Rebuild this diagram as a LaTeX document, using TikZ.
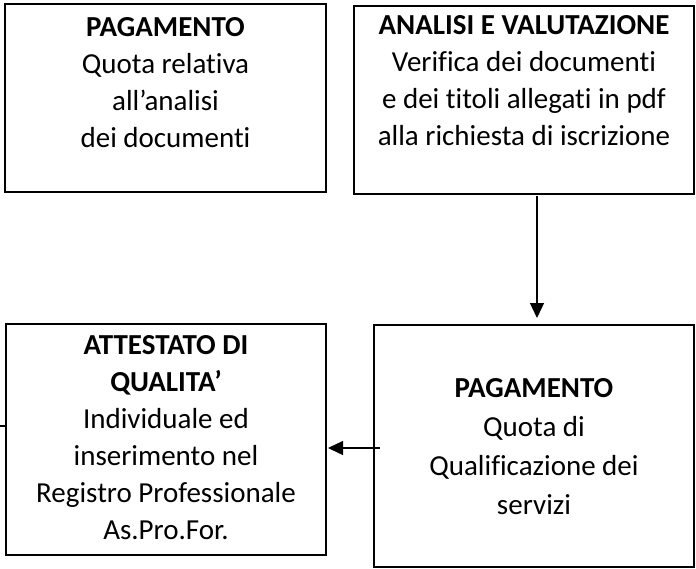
\documentclass[tikz,border=0pt]{standalone}
\usepackage{fontspec}
\setmainfont{Carlito}[Ligatures=NoCommon]
\usetikzlibrary{arrows.meta}

\begin{document}
\begin{tikzpicture}[x=1pt, y=-1pt,
    box/.style={draw, line width=2pt, outer sep=0pt, inner sep=0pt},
    txt/.style={anchor=north, align=center, inner sep=0pt,
      font=\fontsize{29}{37}\selectfont},
    link/.style={line width=1.3pt},
    arr/.style={link, -{Triangle[length=15pt, width=14pt]}}]
    \useasboundingbox (0,0) rectangle (696,568);
    % boxes
    \node[box, minimum width=321pt, minimum height=188pt] (pay1) at (165.5,98) {};
    \node[box, minimum width=340pt, minimum height=188pt] (eval) at (524,100) {};
    \node[box, minimum width=320pt, minimum height=231pt] (cert) at (166,439.5) {};
    \node[box, minimum width=320pt, minimum height=242pt] (pay2) at (534,446) {};
    % texts
    \node[txt] (pay1txt) at ([yshift=-13pt]pay1.north)
      {\textbf{PAGAMENTO}\\Quota relativa\\all’analisi\\dei documenti};
    \node[txt] (evaltxt) at ([yshift=-9pt]eval.north)
      {\textbf{ANALISI E VALUTAZIONE}\\Verifica dei documenti\\e dei titoli allegati in pdf\\alla richiesta di iscrizione};
    \node[txt] (certtxt) at ([yshift=-11pt]cert.north)
      {\textbf{ATTESTATO DI}\\\textbf{QUALITA’}\\Individuale ed\\inserimento nel\\Registro Professionale\\As.Pro.For.};
    \node[txt, font=\fontsize{29}{39}\selectfont] (pay2txt) at ([yshift=-53pt]pay2.north)
      {\textbf{PAGAMENTO}\\Quota di\\Qualificazione dei\\servizi};
    % connectors
    \draw[arr, shorten <=2pt, shorten >=7pt]
      ([xshift=13pt]eval.south) -- ([xshift=3pt]pay2.north);
    \coordinate (from2) at ([xshift=6pt, yshift=-2pt]pay2.west);
    \draw[arr, shorten >=2pt] (from2) -- (from2 -| cert.east);
    \coordinate (stub) at (0,426);
    \draw[link] (stub) -- (stub -| cert.west);
  \end{tikzpicture}
\end{document}
